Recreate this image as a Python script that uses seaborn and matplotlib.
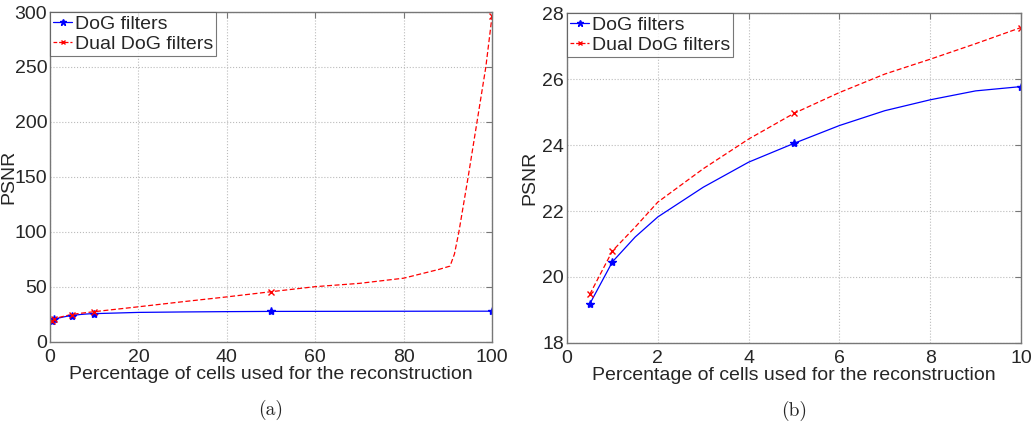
import matplotlib
matplotlib.use('Agg')
import matplotlib.pyplot as plt
from matplotlib.lines import Line2D
import pandas as pd
import seaborn as sns

# measured points (markers)
x_meas=[0.5,1,5,10,50,100]
dog_meas=[19.18,20.46,24.05,25.77,27.8,28.0]
dual_meas=[19.47,20.79,24.96,27.56,45.7,296]

# curves
x_dog_curve=[0.5,1,1.5,2,3,4,5,6,7,8,9,10,20,30,40,50,60,70,80,90,100]
y_dog_curve=[19.18,20.46,21.21,21.82,22.72,23.48,24.05,24.59,25.04,25.37,25.64,25.77,
             26.9,27.3,27.6,27.8,27.85,27.9,27.95,28.0,28.0]
x_dual_curve=[0.5,1,1.5,2,3,4,5,6,7,8,9,10,20,30,40,50,60,70,80,88,90.5,91.5,92.5,
              94.6,96.6,98.6,100]
y_dual_curve=[19.47,20.79,21.51,22.27,23.28,24.18,24.96,25.59,26.15,26.6,27.07,27.56,
              32.0,36.6,41.0,45.7,50.3,53.3,58.0,66.0,69.0,80.0,100.0,
              150.0,200.0,250.0,296]

sns.set_style('white')
plt.rcParams['font.family']=['Liberation Sans','DejaVu Sans']

fig=plt.figure(figsize=(10.33,4.38),dpi=100)
ax_a=fig.add_axes([0.0484,0.2192,0.4279,0.7534])
ax_b=fig.add_axes([0.5489,0.2169,0.4395,0.7534])

blue='#0000ff'
red='#ff0000'

def draw(ax,xmax,ylim,yticks,xticks,caption,ylab_x):
    df_dog=pd.DataFrame({'x':x_dog_curve,'y':y_dog_curve})
    df_dual=pd.DataFrame({'x':x_dual_curve,'y':y_dual_curve})
    df_dog=df_dog[df_dog.x<=xmax]
    df_dual=df_dual[df_dual.x<=xmax]
    sns.lineplot(data=df_dog,x='x',y='y',ax=ax,color=blue,lw=0.9,sort=False)
    sns.lineplot(data=df_dual,x='x',y='y',ax=ax,color=red,lw=0.9,sort=False)
    ax.lines[-1].set_dashes([4,2])
    xm=[v for v in x_meas if v<=xmax]
    ax.plot(xm,[d for v,d in zip(x_meas,dog_meas) if v<=xmax],ls='none',
            marker='*',ms=6,color=blue)
    ax.plot(xm,[d for v,d in zip(x_meas,dual_meas) if v<=xmax],ls='none',
            marker='x',ms=4,mew=1,color=red)
    ax.set_xlim(0,xmax)
    ax.set_ylim(*ylim)
    ax.set_xticks(xticks)
    ax.set_yticks(yticks)
    ax.grid(True,linestyle=':',color='#bbbbbb',lw=0.8)
    for s in ax.spines.values():
        s.set_color('#777777')
        s.set_linewidth(1)
    ax.tick_params(direction='in',top=True,right=True,length=4,color='#777777',
                   labelsize=14,pad=2)
    ax.tick_params(axis='x',pad=5)
    ax.set_xlabel('Percentage of cells used for the reconstruction',fontsize=14,labelpad=0)
    ax.set_ylabel('PSNR',fontsize=14)
    ax.yaxis.set_label_coords(ylab_x,0.5)
    h=[Line2D([],[],color=blue,lw=0.9,marker='*',ms=5),
       Line2D([],[],color=red,lw=0.9,ls=(0,(3,1.5)),marker='x',ms=3)]
    leg=ax.legend(h,['DoG filters','Dual DoG filters'],loc='upper left',
                  fontsize=14,handlelength=1.0,handletextpad=0.15,
                  borderaxespad=0,borderpad=0.15,labelspacing=0.15,
                  frameon=True,fancybox=False,edgecolor='#555555')
    leg.get_frame().set_linewidth(0.8)
    ax.text(0.5,-0.206,caption,transform=ax.transAxes,ha='center',va='center',
            fontsize=14,family=['cmr10','DejaVu Serif'])

draw(ax_a,100,(0,300),[0,50,100,150,200,250,300],[0,20,40,60,80,100],'(a)',-0.074)
draw(ax_b,10,(18,28),[18,20,22,24,26,28],[0,2,4,6,8,10],'(b)',-0.064)

fig.savefig('out.png',dpi=100)
